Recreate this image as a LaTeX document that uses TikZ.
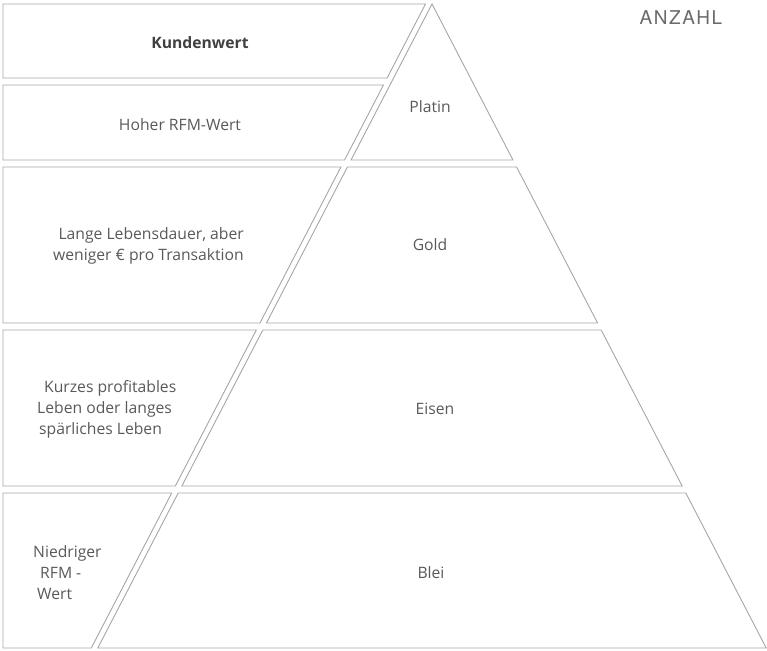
\documentclass[tikz,border=0pt]{standalone}
\usepackage{fontspec}
\setmainfont{Open Sans}
\newfontfamily\headfont[LetterSpace=8]{TeX Gyre Heros}
\definecolor{edge}{HTML}{A6A6A6}
\definecolor{ink}{HTML}{595959}
\definecolor{inkdark}{HTML}{404040}
\begin{document}
\begin{tikzpicture}[x=1pt,y=-1pt,
  declare function={xl(\t)=432-0.519*(\t-4); xr(\t)=432+0.519*(\t-4);},
  band/.style={draw=edge,line width=0.9pt,line join=miter},
  lbl/.style={text=ink,font=\fontsize{15.7}{21}\selectfont,inner sep=0pt}]
\useasboundingbox (0,0) rectangle (767,650);

% left column: value descriptions, right edges parallel to the pyramid side
\draw[band] (3,4) -- ({xl(4)-6.5},4) -- ({xl(78)-6.5},78) -- (3,78) -- cycle;
\draw[band] (3,85) -- ({xl(85)-6.5},85) -- ({xl(160)-6.5},160) -- (3,160) -- cycle;
\draw[band] (3,167) -- ({xl(167)-6.5},167) -- ({xl(323)-6.5},323) -- (3,323) -- cycle;
\draw[band] (3,330) -- ({xl(330)-6.5},330) -- ({xl(486)-6.5},486) -- (3,486) -- cycle;
\draw[band] (3,493) -- ({xl(493)-6.5},493) -- ({xl(648)-6.5},648) -- (3,648) -- cycle;

% pyramid tiers
\draw[band] (432,4) -- ({xr(160)},160) -- ({xl(160)},160) -- cycle;
\draw[band] ({xl(167)},167) -- ({xr(167)},167) -- ({xr(323)},323) -- ({xl(323)},323) -- cycle;
\draw[band] ({xl(330)},330) -- ({xr(330)},330) -- ({xr(486)},486) -- ({xl(486)},486) -- cycle;
\draw[band] ({xl(493)},493) -- ({xr(493)},493) -- ({xr(648)},648) -- ({xl(648)},648) -- cycle;

% labels
\node[lbl,text=inkdark,font=\fontsize{15.7}{21}\selectfont\bfseries] (kw) at (200,43) {Kundenwert};
\node[lbl] (hoch) at (180,125) {Hoher RFM-Wert};
\node[lbl] (platin) at (430,107) {Platin};
\node[lbl,align=right,anchor=east] (lang) at (244,246) {Lange Lebensdauer, aber\\weniger € pro Transaktion};
\node[lbl] (gold) at (430,245) {Gold};
\node[lbl,align=left,anchor=west] (kurz) at (37,409) {\hspace*{7pt}Kurzes profitables\\Leben oder langes\\\hspace*{2pt}spärliches Leben};
\node[lbl] (eisen) at (435,409) {Eisen};
\node[lbl,align=left,anchor=west] (nied) at (33,573) {Niedriger\\\hspace*{7pt}RFM -\\\hspace*{4pt}Wert};
\node[lbl] (blei) at (431,573) {Blei};
\node[inner sep=0pt,text=ink!90,font=\fontsize{19}{22}\headfont] (anz) at (681,18) {ANZAHL};
\end{tikzpicture}
\end{document}
